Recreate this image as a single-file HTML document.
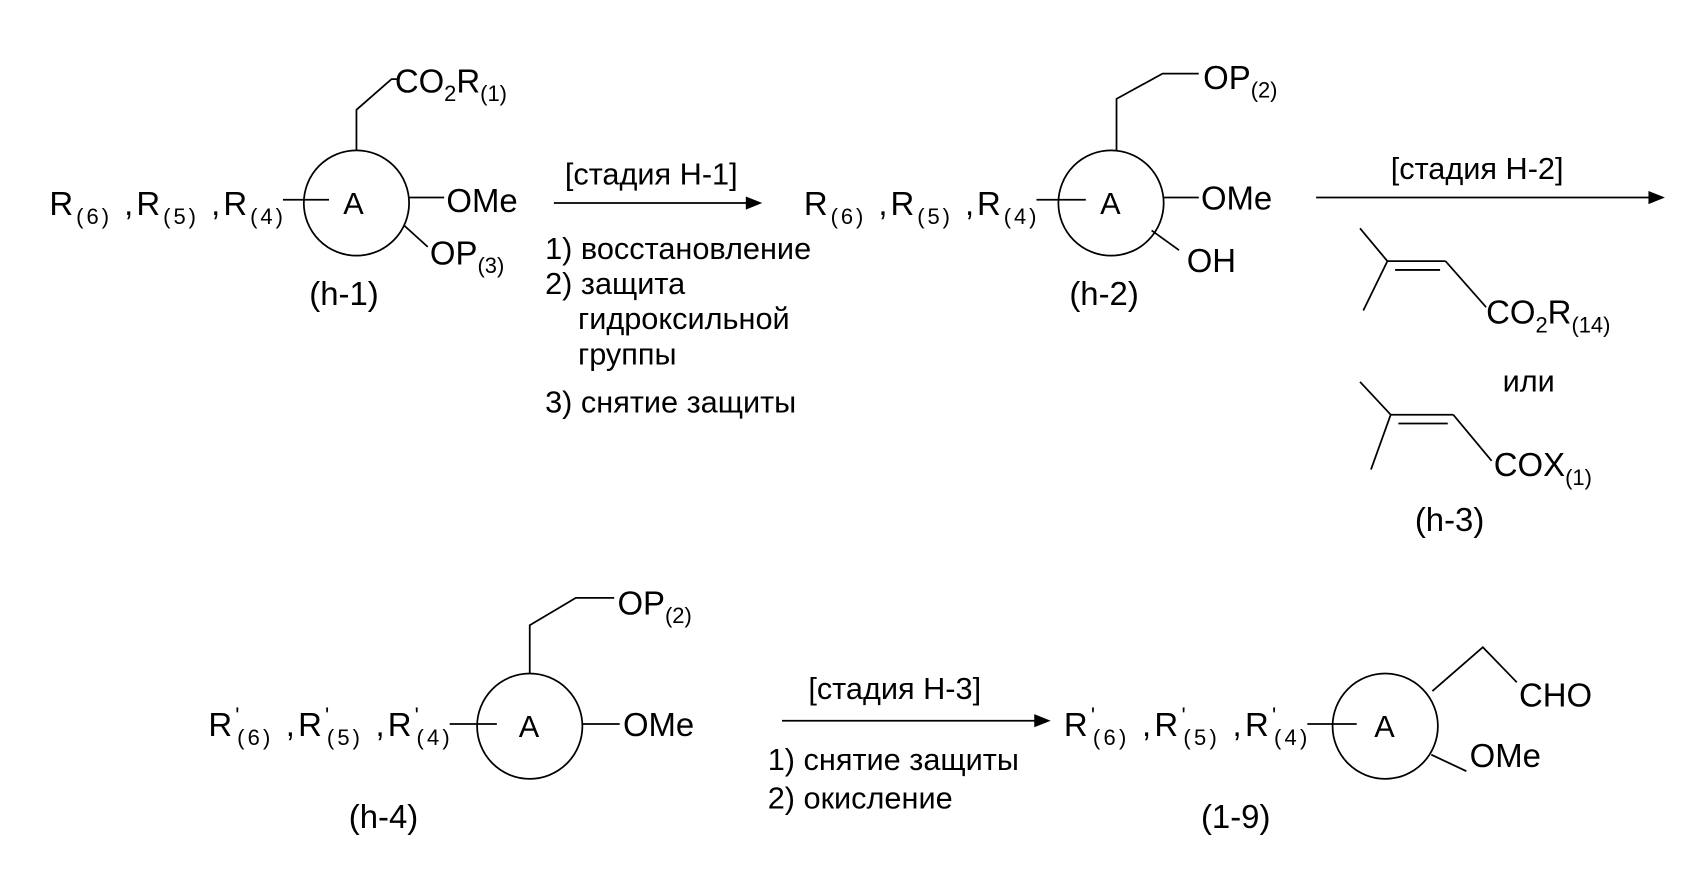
<!DOCTYPE html>
<html><head><meta charset="utf-8"><style>
html,body{margin:0;padding:0;background:#fff;}
svg{display:block;}
text{font-family:"Liberation Sans",sans-serif;fill:#000;}
</style></head><body>
<svg width="1700" height="870" viewBox="0 0 1550 793" xmlns="http://www.w3.org/2000/svg">
<g stroke="#000" stroke-width="1.6" fill="none">
<!-- h-1 -->
<ellipse cx="325" cy="185" rx="48" ry="48"/>
<polyline points="325,137 325,100 357,72 362,72"/>
<line x1="258" y1="182" x2="300" y2="182"/>
<line x1="372" y1="180" x2="405" y2="180"/>
<line x1="368" y1="205" x2="390" y2="225"/>
<line x1="505" y1="185" x2="685" y2="185"/>
<!-- h-2 -->
<ellipse cx="1013" cy="185" rx="48" ry="48"/>
<polyline points="1018,137 1018,90 1060,67 1093,67"/>
<line x1="945" y1="182" x2="990" y2="182"/>
<line x1="1061" y1="180" x2="1093" y2="180"/>
<line x1="1050" y1="210" x2="1075" y2="228"/>
<line x1="1200" y1="180" x2="1508" y2="180"/>
<!-- h-3 -->
<polyline points="1240,208 1265,238 1243,283"/>
<line x1="1265" y1="238" x2="1318" y2="238"/>
<line x1="1272" y1="246" x2="1313" y2="246"/>
<line x1="1318" y1="238" x2="1355" y2="280"/>
<polyline points="1240,348 1268,378 1250,428"/>
<line x1="1268" y1="378" x2="1325" y2="378"/>
<line x1="1275" y1="386" x2="1320" y2="386"/>
<line x1="1325" y1="378" x2="1360" y2="420"/>
<!-- h-4 -->
<ellipse cx="483" cy="662" rx="48" ry="48"/>
<polyline points="483,614 483,570 525,545 560,545"/>
<line x1="410" y1="660" x2="453" y2="660"/>
<line x1="531" y1="660" x2="565" y2="660"/>
<line x1="713" y1="657" x2="948" y2="657"/>
<!-- 1-9 -->
<ellipse cx="1263" cy="662" rx="48" ry="48"/>
<polyline points="1306,630 1352,590 1383,622"/>
<line x1="1192" y1="660" x2="1237" y2="660"/>
<line x1="1305" y1="688" x2="1337" y2="703"/>
</g>
<g fill="#000">
<polygon points="695,185 680,179 680,191"/>
<polygon points="1518,180 1503,174 1503,186"/>
<polygon points="958,657 943,651 943,663"/>
</g>
<g font-size="30">
<text x="360" y="84">CO<tspan font-size="20" dy="8">2</tspan><tspan dy="-8">R</tspan><tspan font-size="20" dy="8">(1)</tspan></text>
<text x="45" y="196" textLength="213">R<tspan font-size="20" dy="8">(6)</tspan><tspan dy="-8"> ,R</tspan><tspan font-size="20" dy="8">(5)</tspan><tspan dy="-8"> ,R</tspan><tspan font-size="20" dy="8">(4)</tspan></text>
<text x="313" y="195" font-size="28">A</text>
<text x="407" y="193">OMe</text>
<text x="392" y="241">OP<tspan font-size="20" dy="8">(3)</tspan></text>
<text x="282" y="278">(h-1)</text>
<g font-size="28">
<text x="515" y="168">[стадия Н-1]</text>
<text x="497" y="236">1) восстановление</text>
<text x="497" y="268">2) защита</text>
<text x="527" y="300">гидроксильной</text>
<text x="527" y="332">группы</text>
<text x="497" y="376">3) снятие защиты</text>
</g>
<!-- h-2 -->
<text x="733" y="196" textLength="212">R<tspan font-size="20" dy="8">(6)</tspan><tspan dy="-8"> ,R</tspan><tspan font-size="20" dy="8">(5)</tspan><tspan dy="-8"> ,R</tspan><tspan font-size="20" dy="8">(4)</tspan></text>
<text x="1003" y="195" font-size="28">A</text>
<text x="1095" y="191">OMe</text>
<text x="1082" y="248">OH</text>
<text x="1097" y="81">OP<tspan font-size="20" dy="8">(2)</tspan></text>
<text x="975" y="278">(h-2)</text>
<text x="1268" y="163" font-size="28">[стадия Н-2]</text>
<!-- h-3 -->
<text x="1355" y="295">CO<tspan font-size="20" dy="8">2</tspan><tspan dy="-8">R</tspan><tspan font-size="20" dy="8">(14)</tspan></text>
<text x="1370" y="357" font-size="28">или</text>
<text x="1362" y="434">COX<tspan font-size="20" dy="8">(1)</tspan></text>
<text x="1290" y="484">(h-3)</text>
<!-- h-4 -->
<text x="190" y="671" textLength="220">R<tspan font-size="20" dy="-12">'</tspan><tspan font-size="20" dx="-5" dy="20">(6)</tspan><tspan dy="-8"> ,R</tspan><tspan font-size="20" dy="-12">'</tspan><tspan font-size="20" dx="-5" dy="20">(5)</tspan><tspan dy="-8"> ,R</tspan><tspan font-size="20" dy="-12">'</tspan><tspan font-size="20" dx="-5" dy="20">(4)</tspan></text>
<text x="473" y="672" font-size="28">A</text>
<text x="568" y="671">OMe</text>
<text x="563" y="560">OP<tspan font-size="20" dy="8">(2)</tspan></text>
<text x="318" y="755">(h-4)</text>
<text x="737" y="637" font-size="28">[стадия Н-3]</text>
<text x="700" y="702" font-size="28">1) снятие защиты</text>
<text x="700" y="737" font-size="28">2) окисление</text>
<!-- 1-9 -->
<text x="970" y="671" textLength="222">R<tspan font-size="20" dy="-12">'</tspan><tspan font-size="20" dx="-5" dy="20">(6)</tspan><tspan dy="-8"> ,R</tspan><tspan font-size="20" dy="-12">'</tspan><tspan font-size="20" dx="-5" dy="20">(5)</tspan><tspan dy="-8"> ,R</tspan><tspan font-size="20" dy="-12">'</tspan><tspan font-size="20" dx="-5" dy="20">(4)</tspan></text>
<text x="1253" y="672" font-size="28">A</text>
<text x="1385" y="644">CHO</text>
<text x="1340" y="699">OMe</text>
<text x="1095" y="755">(1-9)</text>
</g>
</svg>
</body></html>
